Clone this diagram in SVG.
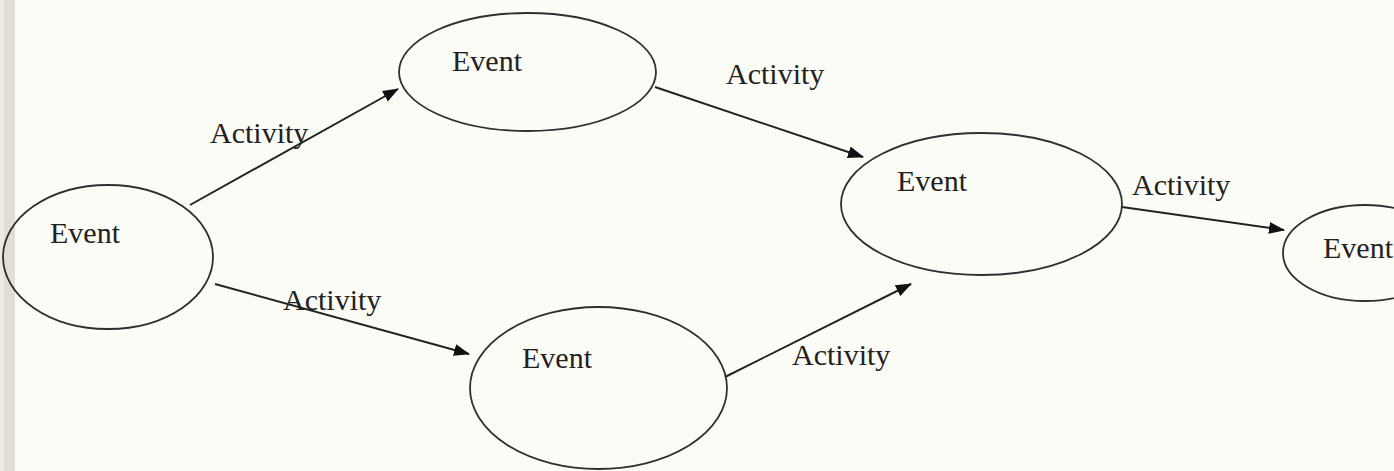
<svg xmlns="http://www.w3.org/2000/svg" width="1394" height="471" viewBox="0 0 1394 471">
  <style>
    .node ellipse { fill: none; stroke: #2f2f2f; stroke-width: 1.8; }
    .label { font-family: "Liberation Serif", "Times New Roman", serif; font-size: 30px; fill: #222; }
    .edge { stroke: #222; stroke-width: 2; fill: none; marker-end: url(#arrow); }
  </style>
  <defs>
    <marker id="arrow" markerUnits="userSpaceOnUse" markerWidth="16" markerHeight="12" refX="15" refY="6" orient="auto">
      <path d="M0,0 L16,6 L0,12 z" fill="#111"/>
    </marker>
  </defs>
  <rect x="0" y="0" width="1394" height="471" fill="#fcfcf7"/>
  <rect x="0" y="0" width="15" height="471" fill="#e0ded5"/>
  <rect x="0" y="0" width="4" height="471" fill="#eceae3"/>

  <g id="connectors">
    <line class="edge" x1="190" y1="205" x2="398" y2="89"/>
    <line class="edge" x1="655" y1="87" x2="863" y2="157"/>
    <line class="edge" x1="215" y1="284" x2="469" y2="354"/>
    <line class="edge" x1="725" y1="377" x2="911" y2="284"/>
    <line class="edge" x1="1122" y1="207" x2="1284" y2="230"/>
    <text class="label" x="210" y="143">Activity</text>
    <text class="label" x="726" y="84">Activity</text>
    <text class="label" x="283" y="310">Activity</text>
    <text class="label" x="792" y="365">Activity</text>
    <text class="label" x="1132" y="195">Activity</text>
  </g>

  <g id="event-start" class="node">
    <ellipse cx="108" cy="257" rx="105" ry="72"/>
    <text class="label" x="50" y="243">Event</text>
  </g>
  <g id="event-top" class="node">
    <ellipse cx="527.5" cy="72" rx="128.5" ry="59"/>
    <text class="label" x="452" y="71">Event</text>
  </g>
  <g id="event-bottom" class="node">
    <ellipse cx="598.5" cy="388" rx="128.5" ry="81"/>
    <text class="label" x="522" y="368">Event</text>
  </g>
  <g id="event-merge" class="node">
    <ellipse cx="981.5" cy="204" rx="140.5" ry="71"/>
    <text class="label" x="897" y="191">Event</text>
  </g>
  <g id="event-end" class="node">
    <ellipse cx="1365" cy="253" rx="82" ry="48"/>
    <text class="label" x="1323" y="258">Event</text>
  </g>
</svg>
